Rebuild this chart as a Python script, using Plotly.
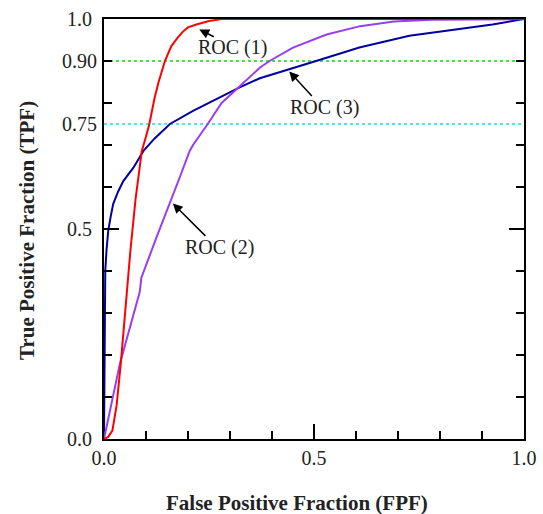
import plotly.graph_objects as go

# ROC (1) - red
roc1_fpf = [0, 0.01, 0.02, 0.03, 0.04, 0.05, 0.063, 0.075, 0.09, 0.1, 0.108, 0.12, 0.13, 0.145, 0.16, 0.175, 0.188, 0.2, 0.22, 0.25, 0.28, 1.0]
roc1_tpf = [0, 0.005, 0.02, 0.08, 0.18, 0.30, 0.45, 0.57, 0.686, 0.72, 0.75, 0.81, 0.85, 0.90, 0.935, 0.955, 0.97, 0.98, 0.987, 0.995, 1.0, 1.0]

# ROC (2) - purple
roc2_fpf = [0, 0.038, 0.085, 0.089, 0.125, 0.157, 0.18, 0.204, 0.212, 0.247, 0.28, 0.318, 0.35, 0.371, 0.394, 0.45, 0.53, 0.61, 0.69, 0.78, 1.0]
roc2_tpf = [0, 0.18, 0.35, 0.384, 0.48, 0.56, 0.622, 0.686, 0.70, 0.75, 0.80, 0.835, 0.865, 0.884, 0.90, 0.932, 0.963, 0.983, 0.994, 0.998, 1.0]

# ROC (3) - dark blue
roc3_fpf = [0, 0.001, 0.003, 0.006, 0.01, 0.016, 0.022, 0.034, 0.046, 0.07, 0.094, 0.12, 0.157, 0.212, 0.276, 0.323, 0.371, 0.442, 0.505, 0.608, 0.727, 0.846, 0.925, 1.0]
roc3_tpf = [0, 0.30, 0.40, 0.45, 0.495, 0.53, 0.56, 0.59, 0.614, 0.646, 0.686, 0.715, 0.75, 0.781, 0.813, 0.837, 0.859, 0.88, 0.90, 0.932, 0.96, 0.976, 0.987, 1.0]

ref_levels = [0.75, 0.90]
ref_colors = ["#00e8f0", "#00e000"]

x_tick_vals = [0.0, 0.5, 1.0]
x_tick_text = ["0.0", "0.5", "1.0"]
y_tick_vals = [0.0, 0.5, 1.0]
y_tick_text = ["0.0", "0.5", "1.0"]
y_extra_vals = [0.75, 0.90]
y_extra_text = ["0.75", "0.90"]

labels = ["ROC (1)", "ROC (2)", "ROC (3)"]
arrow_heads_x = [0.227, 0.164, 0.441]
arrow_heads_y = [0.975, 0.561, 0.875]
label_offsets = [(16, 8), (34, 34), (24, 26)]
text_pos = [(232, 48), (219, 248), (324, 107)]

x_title = "False Positive Fraction (FPF)"
y_title = "True Positive Fraction (TPF)"

FONT = "Liberation Serif"

fig = go.Figure()
for xs, ys, col in [(roc3_fpf, roc3_tpf, "#0000a0"), (roc2_fpf, roc2_tpf, "#9a3cf0"), (roc1_fpf, roc1_tpf, "#ff0000")]:
    fig.add_trace(go.Scatter(x=xs, y=ys, mode="lines", line=dict(color=col, width=2), showlegend=False))

fig.add_trace(go.Scatter(x=[0], y=[0], yaxis="y2", mode="markers", marker=dict(opacity=0), showlegend=False, hoverinfo="skip"))

for lv, c in zip(ref_levels, ref_colors):
    fig.add_shape(type="line", xref="x", yref="y", x0=0, x1=1, y0=lv, y1=lv,
                  line=dict(color=c, width=1.6, dash="dot"), layer="below")

for lab, hx, hy, (ax, ay) in zip(labels, arrow_heads_x, arrow_heads_y, label_offsets):
    fig.add_annotation(x=hx, y=hy, xref="x", yref="y", text="", showarrow=True,
                       arrowhead=2, arrowsize=1.3, arrowwidth=1.5, arrowcolor="black",
                       ax=ax, ay=ay)

W, H = 543, 514
ml, mr, mt, mb = 104, 19, 19, 75
pw, ph = W - ml - mr, H - mt - mb


def px2paper(px, py):
    return (px - ml) / pw, 1 - (py - mt) / ph


for lab, (px, py) in zip(labels, text_pos):
    xx, yy = px2paper(px, py)
    fig.add_annotation(x=xx, y=yy, xref="paper", yref="paper",
                       text=lab, showarrow=False, font=dict(family=FONT, size=20, color="#222"),
                       xanchor="center", yanchor="middle")

xx, yy = px2paper(297, 503)
fig.add_annotation(x=xx, y=yy, xref="paper", yref="paper", text="<b>" + x_title + "</b>",
                   showarrow=False, font=dict(family=FONT, size=21, color="#222"), xanchor="center", yanchor="middle")
xx, yy = px2paper(27, 231)
fig.add_annotation(x=xx, y=yy, xref="paper", yref="paper", text="<b>" + y_title + "</b>", textangle=-90,
                   showarrow=False, font=dict(family=FONT, size=21, color="#222"), xanchor="center", yanchor="middle")

fig.update_layout(
    width=W, height=H, margin=dict(l=ml, r=mr, t=mt, b=mb, autoexpand=False),
    paper_bgcolor="white", plot_bgcolor="white",
    font=dict(family=FONT, size=20, color="#222"),
    xaxis=dict(range=[0, 1], tickvals=x_tick_vals, ticktext=x_tick_text, automargin=False,
               ticks="inside", ticklen=15, tickwidth=1.5, tickcolor="black",
               minor=dict(dtick=0.1, tick0=0, ticks="inside", ticklen=8, tickwidth=1.5, tickcolor="black", showgrid=False),
               showline=True, linecolor="black", linewidth=2, mirror=True, showgrid=False, zeroline=False,
               ticklabelstandoff=0),
    yaxis=dict(range=[0, 1], tickvals=y_tick_vals, ticktext=y_tick_text, automargin=False,
               ticks="inside", ticklen=15, tickwidth=1.5, tickcolor="black",
               minor=dict(dtick=0.1, tick0=0, ticks="inside", ticklen=8, tickwidth=1.5, tickcolor="black", showgrid=False),
               showline=True, linecolor="black", linewidth=2, mirror="allticks", showgrid=False, zeroline=False,
               ticklabelstandoff=6),
    yaxis2=dict(range=[0, 1], overlaying="y", side="left", anchor="x", tickvals=y_extra_vals, ticktext=y_extra_text,
                automargin=False, ticks="", showline=False, showgrid=False, zeroline=False, ticklabelstandoff=6),
)

fig.write_html("out.html", config={"displayModeBar": False},
               post_script="document.body.style.margin='0';document.body.style.overflow='hidden';")
